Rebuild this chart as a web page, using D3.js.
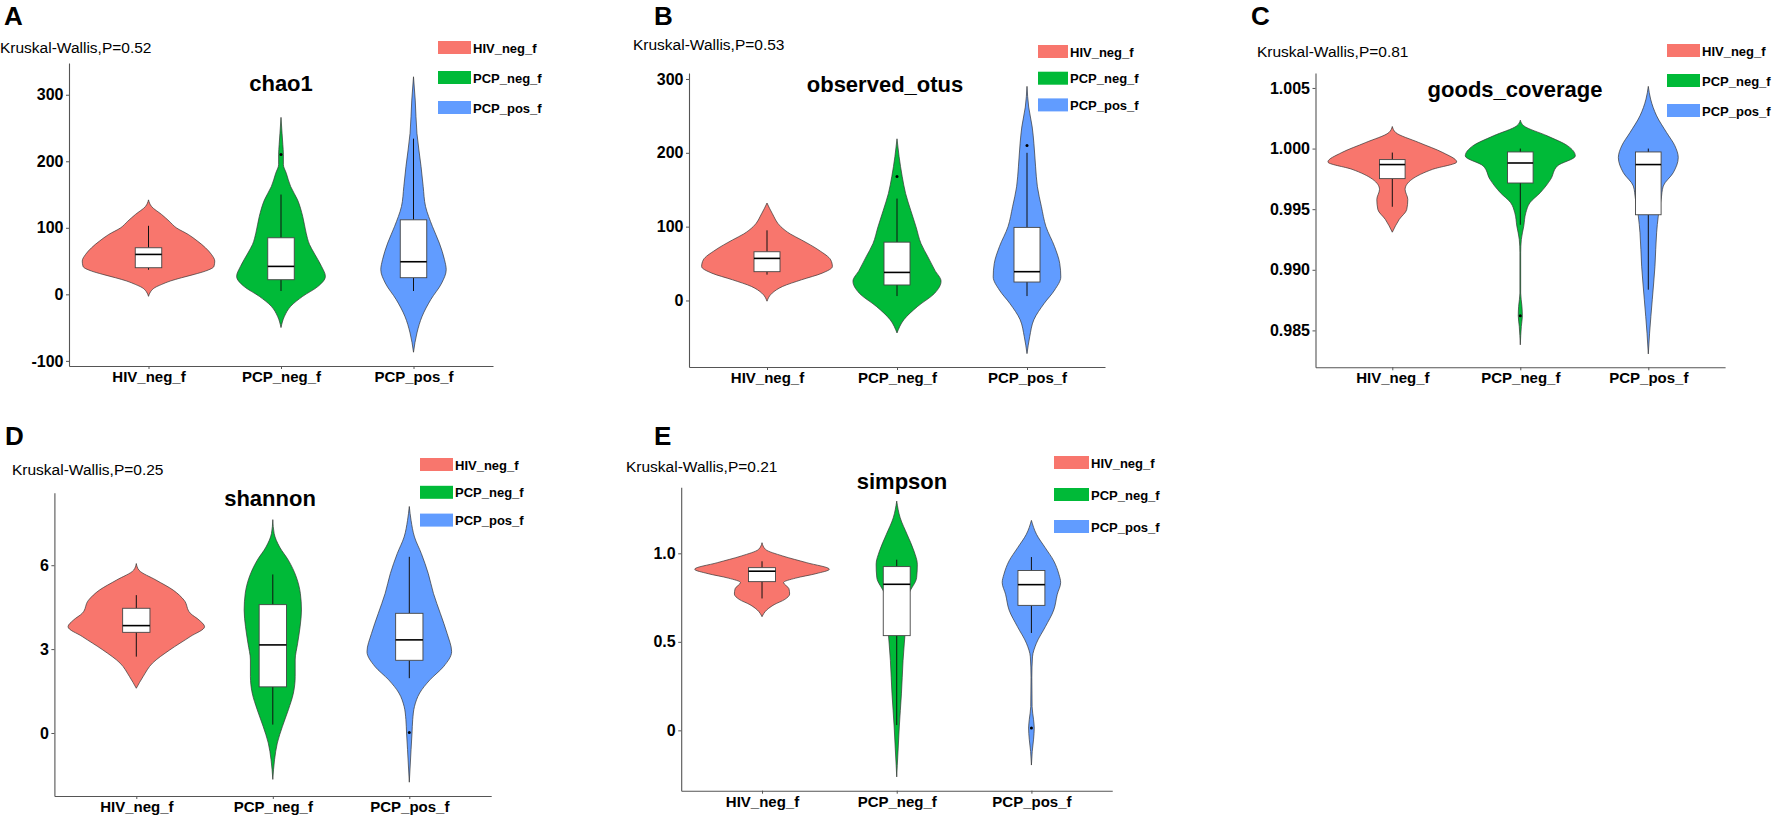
<!DOCTYPE html>
<html>
<head>
<meta charset="utf-8">
<script src="https://cdn.jsdelivr.net/npm/d3@7"></script>
<style>
body { margin: 0; background: #fff; }
text { font-family: "Liberation Sans", Arial, sans-serif; }
</style>
</head>
<body>
<script>
var groups = ["HIV_neg_f", "PCP_neg_f", "PCP_pos_f"];
var colors = ["#F8766D", "#00BA38", "#619CFF"];
var metrics = ["chao1", "observed_otus", "goods_coverage", "shannon", "simpson"];
var pValues = ["0.52", "0.53", "0.81", "0.25", "0.21"];

// y ticks per metric
var chao1Ticks = [-100, 0, 100, 200, 300];
var chao1Labels = ["-100", "0", "100", "200", "300"];
var otusTicks = [0, 100, 200, 300];
var otusLabels = ["0", "100", "200", "300"];
var goodsTicks = [0.985, 0.990, 0.995, 1.000, 1.005];
var goodsLabels = ["0.985", "0.990", "0.995", "1.000", "1.005"];
var shannonTicks = [0, 3, 6];
var shannonLabels = ["0", "3", "6"];
var simpsonTicks = [0, 0.5, 1.0];
var simpsonLabels = ["0", "0.5", "1.0"];

// violin outlines: [value, half width in category units], top to bottom
var chao1Violin = [
  [[142,0],[132,0.023],[120,0.099],[110,0.156],[100,0.21],[90,0.3],[80,0.37],[70,0.43],[60,0.475],[50,0.5],[42,0.494],[35,0.43],[30,0.345],[25,0.25],[20,0.164],[15,0.1],[10,0.047],[4,0.016],[-3,0]],
  [[266,0],[242,0.008],[225,0.014],[210,0.018],[195,0.018],[182,0.04],[162,0.073],[142,0.125],[117,0.164],[92,0.19],[75,0.215],[62,0.25],[42,0.306],[27,0.335],[12,0.28],[-3,0.164],[-18,0.073],[-33,0.026],[-50,0]],
  [[327,0],[292,0.013],[242,0.026],[192,0.057],[162,0.073],[132,0.091],[102,0.143],[77,0.195],[52,0.234],[37,0.247],[17,0.213],[-8,0.13],[-33,0.065],[-58,0.026],[-87,0]]
];
var otusViolin = [
  [[132,0],[118,0.04],[100,0.106],[90,0.18],[82,0.265],[68,0.4],[55,0.49],[46,0.503],[37,0.424],[28,0.265],[19,0.12],[10,0.04],[-1,0]],
  [[219,0],[195,0.016],[168,0.04],[145,0.066],[122,0.106],[100,0.146],[77,0.185],[59,0.238],[41,0.291],[26,0.339],[10,0.291],[-8,0.159],[-26,0.053],[-44,0]],
  [[290,0],[262,0.013],[235,0.04],[213,0.053],[181,0.066],[154,0.08],[127,0.111],[100,0.146],[73,0.212],[50,0.252],[32,0.26],[14,0.212],[-4,0.132],[-26,0.053],[-49,0.021],[-72,0]]
];
var goodsViolin = [
  [[1.00182,0],[1.00132,0.027],[1.0005,0.207],[0.99967,0.395],[0.9989,0.503],[0.99829,0.315],[0.99746,0.153],[0.99663,0.1],[0.9958,0.121],[0.99498,0.113],[0.99415,0.054],[0.9931,0]],
  [[1.00234,0],[1.00188,0.027],[1.00105,0.21],[1.00022,0.371],[0.99939,0.43],[0.99857,0.29],[0.99746,0.237],[0.99636,0.156],[0.99553,0.075],[0.9947,0.043],[0.9936,0.027],[0.9925,0.008],[0.9914,0.003],[0.98808,0.003],[0.98698,0.013],[0.98621,0.016],[0.98532,0.008],[0.98381,0]],
  [[1.00513,0],[1.00408,0.018],[1.0027,0.065],[1.00132,0.143],[1.00022,0.208],[0.99926,0.234],[0.99801,0.195],[0.99691,0.117],[0.9958,0.1],[0.99443,0.078],[0.99305,0.065],[0.99029,0.052],[0.98753,0.031],[0.98477,0.01],[0.98306,0]]
];
var shannonViolin = [
  [[6.06,0],[5.82,0.02],[5.47,0.144],[5.11,0.27],[4.75,0.35],[4.28,0.396],[4.04,0.46],[3.8,0.5],[3.45,0.396],[2.97,0.245],[2.5,0.119],[2.02,0.05],[1.6,0]],
  [[7.63,0],[7.13,0.01],[6.65,0.05],[6.18,0.114],[5.58,0.172],[4.99,0.202],[4.4,0.21],[3.8,0.2],[3.21,0.182],[2.61,0.164],[2.02,0.164],[1.43,0.151],[0.83,0.114],[0.24,0.071],[-0.36,0.033],[-0.95,0.013],[-1.66,0]],
  [[8.1,0],[7.6,0.013],[7.01,0.038],[6.42,0.088],[5.7,0.139],[4.99,0.177],[4.28,0.227],[3.56,0.277],[2.91,0.31],[2.38,0.252],[1.9,0.151],[1.43,0.076],[0.95,0.038],[0.48,0.025],[0,0.02],[-0.59,0.013],[-1.76,0]]
];
var simpsonViolin = [
  [[1.06,0],[1.022,0.026],[0.985,0.153],[0.947,0.332],[0.91,0.5],[0.885,0.4],[0.86,0.25],[0.835,0.16],[0.8,0.2],[0.77,0.205],[0.74,0.17],[0.71,0.09],[0.68,0.035],[0.642,0]],
  [[1.295,0],[1.2,0.026],[1.107,0.077],[1.013,0.128],[0.938,0.153],[0.863,0.148],[0.769,0.09],[0.675,0.075],[0.582,0.066],[0.488,0.056],[0.394,0.047],[0.3,0.041],[0.206,0.035],[0.113,0.027],[0.019,0.019],[-0.1,0.011],[-0.2,0.004],[-0.263,0]],
  [[1.186,0],[1.107,0.038],[1.032,0.102],[0.957,0.166],[0.882,0.204],[0.835,0.217],[0.769,0.192],[0.68,0.166],[0.586,0.104],[0.492,0.037],[0.415,0.008],[0.3,0.003],[0.134,0.005],[0.06,0.016],[0.013,0.021],[-0.05,0.016],[-0.12,0.006],[-0.196,0]]
];

// box stats: [lower whisker, q1, median, q3, upper whisker]
var chao1Box = [[37,40,60,70,103],[5,22,42,85,150],[5,25,49,112,234]];
var otusBox = [[35,39,57,66,95],[6,21,38,79,138],[6,25,39,99,200]];
var goodsBox = [[0.9952,0.99752,0.99868,0.99909,0.99967],[0.99371,0.99716,0.99881,0.99972,1.0],[0.98836,0.99454,0.99868,0.99972,1.0]];
var shannonBox = [[2.73,3.6,3.84,4.46,4.93],[0.3,1.65,3.15,4.59,5.67],[1.96,2.6,3.33,4.28,6.3]];
var simpsonBox = [[0.745,0.84,0.899,0.919,0.955],[0.03,0.535,0.825,0.925,0.964],[0.55,0.706,0.823,0.903,0.979]];

var chao1Out = [[], [210], []];
var otusOut = [[], [168], [210]];
var goodsOut = [[], [0.98621], []];
var shannonOut = [[], [], [0.02]];
var simpsonOut = [[], [], [0.013]];

var panelTicks = [chao1Ticks, otusTicks, goodsTicks, shannonTicks, simpsonTicks];
var panelLabels = [chao1Labels, otusLabels, goodsLabels, shannonLabels, simpsonLabels];
var panelViolins = [chao1Violin, otusViolin, goodsViolin, shannonViolin, simpsonViolin];
var panelBoxes = [chao1Box, otusBox, goodsBox, shannonBox, simpsonBox];
var panelOut = [chao1Out, otusOut, goodsOut, shannonOut, simpsonOut];

// page layout of each panel
var layout = [
  {letter: "A", lx: 4, ly: 25, kx: 0, ky: 53, left: 69, top: 63, bottom: 366, unit: 132.5, tx: 281, ty: 91, legX: 438, legY: 41, legStep: 30, legW: 33},
  {letter: "B", lx: 654, ly: 25, kx: 633, ky: 50, left: 689, top: 73, bottom: 367, unit: 130, tx: 885, ty: 92, legX: 1038, legY: 45, legStep: 26.7, legW: 30},
  {letter: "C", lx: 1251, ly: 25, kx: 1257, ky: 57, left: 1315.5, top: 73, bottom: 367.3, unit: 128, tx: 1515, ty: 97, legX: 1667, legY: 44, legStep: 30, legW: 33},
  {letter: "D", lx: 5, ly: 445, kx: 12, ky: 475, left: 54.4, top: 492.7, bottom: 796, unit: 136.5, tx: 270, ty: 506, legX: 420, legY: 458, legStep: 27.8, legW: 33},
  {letter: "E", lx: 654, ly: 445, kx: 626, ky: 471.5, left: 681.2, top: 487.3, bottom: 790.7, unit: 134.7, tx: 902, ty: 489, legX: 1054, legY: 456, legStep: 32, legW: 35}
];

var svg = d3.select("body").append("svg")
  .attr("width", 1772)
  .attr("height", 816)
  .style("background", "#fff");

layout.forEach(function (p, k) {
  var g = svg.append("g");
  var violins = panelViolins[k];

  // y domain from the violin extents, expanded 5% like ggplot
  var all = [];
  violins.forEach(function (v) { v.forEach(function (d) { all.push(d[0]); }); });
  var ext = d3.extent(all);
  var pad = (ext[1] - ext[0]) * 0.05;

  var y = d3.scaleLinear()
    .domain([ext[0] - pad, ext[1] + pad])
    .range([p.bottom, p.top]);

  var x = d3.scalePoint()
    .domain(groups)
    .range([p.left, p.left + 3.2 * p.unit])
    .padding(0.6);
  var unit = x.step();

  // violins
  violins.forEach(function (v, i) {
    var cx = x(groups[i]);
    var area = d3.area()
      .y(function (d) { return y(d[0]); })
      .x0(function (d) { return cx - d[1] * unit; })
      .x1(function (d) { return cx + d[1] * unit; })
      .curve(d3.curveMonotoneY);
    g.append("path")
      .datum(v)
      .attr("d", area)
      .attr("fill", colors[i])
      .attr("stroke", "#333")
      .attr("stroke-width", 0.7);
  });

  // boxes
  panelBoxes[k].forEach(function (b, i) {
    var cx = x(groups[i]);
    var bw = 0.2 * unit;
    g.append("line")
      .attr("x1", cx).attr("x2", cx)
      .attr("y1", y(b[3])).attr("y2", y(b[4]))
      .attr("stroke", "#111").attr("stroke-width", 1);
    g.append("line")
      .attr("x1", cx).attr("x2", cx)
      .attr("y1", y(b[1])).attr("y2", y(b[0]))
      .attr("stroke", "#111").attr("stroke-width", 1);
    g.append("rect")
      .attr("x", cx - bw / 2)
      .attr("width", bw)
      .attr("y", y(b[3]))
      .attr("height", y(b[1]) - y(b[3]))
      .attr("fill", "#fff")
      .attr("stroke", "#444")
      .attr("stroke-width", 0.9);
    g.append("line")
      .attr("x1", cx - bw / 2).attr("x2", cx + bw / 2)
      .attr("y1", y(b[2])).attr("y2", y(b[2]))
      .attr("stroke", "#000").attr("stroke-width", 1.6);
  });

  // outliers
  panelOut[k].forEach(function (o, i) {
    g.selectAll(null)
      .data(o)
      .enter()
      .append("circle")
      .attr("cx", x(groups[i]))
      .attr("cy", function (d) { return y(d); })
      .attr("r", 1.5)
      .attr("fill", "#000");
  });

  // axes
  var labels = panelLabels[k];
  var yAxis = d3.axisLeft(y)
    .tickValues(panelTicks[k])
    .tickFormat(function (d, i) { return labels[i]; })
    .tickSize(3)
    .tickSizeOuter(0)
    .tickPadding(2.5);
  var ya = g.append("g")
    .attr("transform", "translate(" + p.left + ",0)")
    .call(yAxis);
  ya.selectAll("text")
    .attr("font-size", 16)
    .attr("font-weight", "bold")
    .attr("fill", "#000")
    .style("font-family", "'Liberation Sans', Arial, sans-serif");

  var xAxis = d3.axisBottom(x)
    .tickSize(3)
    .tickSizeOuter(0)
    .tickPadding(2.5);
  var xa = g.append("g")
    .attr("transform", "translate(0," + p.bottom + ")")
    .call(xAxis);
  xa.selectAll("text")
    .attr("font-size", 15)
    .attr("font-weight", "bold")
    .attr("fill", "#000")
    .style("font-family", "'Liberation Sans', Arial, sans-serif");

  [ya, xa].forEach(function (a) {
    a.select(".domain").attr("stroke", "#555").attr("stroke-width", 1.1);
    a.selectAll(".tick line").attr("stroke", "#555");
  });

  // texts
  g.append("text")
    .attr("x", p.lx).attr("y", p.ly)
    .attr("font-size", 26).attr("font-weight", "bold")
    .text(p.letter);
  g.append("text")
    .attr("x", p.kx).attr("y", p.ky)
    .attr("font-size", 15.5)
    .text("Kruskal-Wallis,P=" + pValues[k]);
  g.append("text")
    .attr("x", p.tx).attr("y", p.ty)
    .attr("text-anchor", "middle")
    .attr("font-size", 22).attr("font-weight", "bold")
    .text(metrics[k]);

  // legend
  groups.forEach(function (name, i) {
    var ly = p.legY + i * p.legStep;
    g.append("rect")
      .attr("x", p.legX).attr("y", ly)
      .attr("width", p.legW).attr("height", 13)
      .attr("fill", colors[i]);
    g.append("text")
      .attr("x", p.legX + p.legW + 2).attr("y", ly + 11.5)
      .attr("font-size", 13).attr("font-weight", "bold")
      .text(name);
  });
});
</script>
</body>
</html>
